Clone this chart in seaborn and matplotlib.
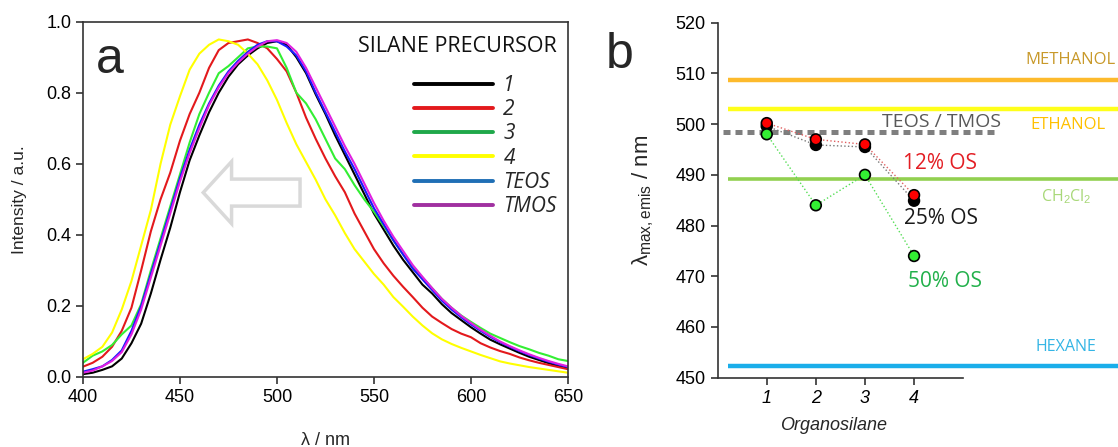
import pandas as pd
import matplotlib
matplotlib.use('Agg')
import matplotlib.pyplot as plt
from matplotlib.lines import Line2D
from matplotlib.patches import FancyArrow
from matplotlib.font_manager import FontProperties
import seaborn as sns

# ---------------- data ----------------
wavelength = list(range(400, 655, 5))

int_1 = [0.008, 0.012, 0.02, 0.03, 0.052, 0.095, 0.15, 0.235, 0.33, 0.42,
         0.52, 0.61, 0.68, 0.745, 0.8, 0.845, 0.88, 0.905, 0.925, 0.94,
         0.945, 0.935, 0.9, 0.855, 0.795, 0.74, 0.68, 0.625, 0.57, 0.515,
         0.46, 0.415, 0.37, 0.33, 0.295, 0.26, 0.235, 0.205, 0.18, 0.16,
         0.14, 0.122, 0.105, 0.092, 0.08, 0.068, 0.057, 0.048, 0.039, 0.031,
         0.024]
int_2 = [0.029, 0.04, 0.057, 0.085, 0.13, 0.195, 0.3, 0.41, 0.5, 0.575,
         0.665, 0.74, 0.8, 0.87, 0.92, 0.94, 0.945, 0.95, 0.94, 0.925,
         0.895, 0.86, 0.8, 0.73, 0.67, 0.615, 0.565, 0.52, 0.46, 0.41,
         0.36, 0.32, 0.285, 0.254, 0.225, 0.195, 0.17, 0.152, 0.135, 0.122,
         0.112, 0.095, 0.083, 0.073, 0.065, 0.055, 0.047, 0.04, 0.034, 0.028,
         0.022]
int_3 = [0.04, 0.06, 0.072, 0.09, 0.12, 0.145, 0.205, 0.3, 0.39, 0.48,
         0.57, 0.66, 0.74, 0.8, 0.855, 0.875, 0.9, 0.925, 0.93, 0.93,
         0.925, 0.87, 0.8, 0.77, 0.725, 0.67, 0.615, 0.585, 0.54, 0.5,
         0.465, 0.425, 0.385, 0.345, 0.31, 0.28, 0.25, 0.22, 0.195, 0.173,
         0.155, 0.138, 0.122, 0.11, 0.098, 0.087, 0.078, 0.068, 0.06, 0.05,
         0.045]
int_4 = [0.05, 0.065, 0.085, 0.125, 0.19, 0.27, 0.37, 0.47, 0.6, 0.71,
         0.79, 0.865, 0.91, 0.935, 0.95, 0.945, 0.935, 0.91, 0.88, 0.835,
         0.78, 0.715, 0.655, 0.605, 0.555, 0.5, 0.455, 0.405, 0.36, 0.325,
         0.29, 0.26, 0.225, 0.198, 0.17, 0.145, 0.123, 0.106, 0.093, 0.082,
         0.072, 0.062, 0.053, 0.044, 0.038, 0.033, 0.028, 0.024, 0.02, 0.016,
         0.012]
int_teos = [0.015, 0.022, 0.03, 0.048, 0.075, 0.13, 0.2, 0.29, 0.38, 0.47,
            0.56, 0.64, 0.71, 0.77, 0.82, 0.86, 0.89, 0.915, 0.935, 0.945,
            0.945, 0.93, 0.905, 0.86, 0.8, 0.745, 0.69, 0.635, 0.585, 0.53,
            0.475, 0.43, 0.385, 0.345, 0.305, 0.275, 0.245, 0.215, 0.19, 0.168,
            0.148, 0.13, 0.113, 0.098, 0.085, 0.073, 0.062, 0.052, 0.043, 0.035,
            0.028]
int_tmos = [0.012, 0.018, 0.03, 0.045, 0.07, 0.12, 0.19, 0.28, 0.37, 0.46,
            0.55, 0.63, 0.7, 0.765, 0.815, 0.855, 0.885, 0.91, 0.93, 0.945,
            0.948, 0.94, 0.915, 0.87, 0.815, 0.76, 0.705, 0.65, 0.6, 0.545,
            0.49, 0.44, 0.395, 0.355, 0.315, 0.282, 0.25, 0.22, 0.195, 0.172,
            0.152, 0.133, 0.116, 0.1, 0.087, 0.075, 0.064, 0.054, 0.045, 0.037,
            0.03]

precursors = ['1', '2', '3', '4', 'TEOS', 'TMOS']
curve_colors = ['#000000', '#E3191C', '#33EE33', '#FFFF00', '#1A1AFF', '#E020E0']
legend_colors = ['#000000', '#E3191C', '#1FA84A', '#FFFF00', '#1F6FB5', '#A030A0']

organosilane = [1, 2, 3, 4]
os_25 = [499.6, 495.9, 495.5, 484.9]
os_12 = [500.2, 497.0, 496.0, 486.0]
os_50 = [498.0, 484.0, 490.0, 474.0]

solvents = ['METHANOL', 'ETHANOL', 'CH$_2$Cl$_2$', 'HEXANE']
solvent_lmax = [508.8, 503.0, 489.1, 452.3]
teos_tmos_lmax = 498.4

# ---------------- style ----------------
sns.set_theme(style='ticks')
plt.rcParams['font.family'] = ['Liberation Sans', 'DejaVu Sans']
plt.rcParams['mathtext.fontset'] = 'custom'
plt.rcParams['mathtext.rm'] = 'Liberation Sans'
plt.rcParams['mathtext.it'] = 'Liberation Sans:italic'
plt.rcParams['axes.edgecolor'] = '#333333'
plt.rcParams['axes.linewidth'] = 1.2
plt.rcParams['xtick.color'] = '#333333'
plt.rcParams['ytick.color'] = '#333333'
plt.rcParams['xtick.labelcolor'] = 'black'
plt.rcParams['ytick.labelcolor'] = 'black'

fig = plt.figure(figsize=(11.18, 4.47), dpi=100)
ax_a = fig.add_axes([0.0742, 0.1566, 0.4338, 0.7949])
ax_b = fig.add_axes([0.6419, 0.155, 0.2196, 0.7942])

# ---------------- panel a ----------------
spectra = pd.DataFrame({
    'wavelength': wavelength * len(precursors),
    'intensity': int_1 + int_2 + int_3 + int_4 + int_teos + int_tmos,
    'precursor': [p for p in precursors for _ in wavelength],
})
sns.lineplot(data=spectra, x='wavelength', y='intensity', hue='precursor',
             hue_order=precursors, palette=curve_colors, lw=1.5,
             estimator=None, legend=False, ax=ax_a)

ax_a.add_patch(FancyArrow(511.9, 0.519, -49.9, 0, width=0.076, head_width=0.1745,
                          head_length=14.6, length_includes_head=True,
                          fc='white', ec='#D9D9D9', lw=2.5, zorder=0))

ax_a.set_xlim(400, 650)
ax_a.set_ylim(0, 1.0)
ax_a.set_xticks([400, 450, 500, 550, 600, 650])
ax_a.set_yticks([0, 0.2, 0.4, 0.6, 0.8, 1.0])
ax_a.yaxis.set_major_formatter(matplotlib.ticker.FormatStrFormatter('%.1f'))
ax_a.tick_params(direction='out', length=5, width=1.2, labelsize=13)
ax_a.set_xlabel('λ / nm', fontsize=13)
ax_a.set_ylabel('Intensity / a.u.', fontsize=12.5)
ax_a.xaxis.set_label_coords(0.5, -0.155)
ax_a.xaxis.label.set_va('top')
ax_a.yaxis.set_label_coords(-0.115, 0.5)

# legend: title as separate text, entries right-aligned beneath
ax_a.text(0.977, 0.929, 'SILANE PRECURSOR', transform=ax_a.transAxes, ha='right', va='center',
          fontsize=15.5, family='Open Sans', color='#111111')
handles = [Line2D([], [], color=c, lw=2.8) for c in legend_colors]
ax_a.legend(handles, precursors, loc='upper right',
            bbox_to_anchor=(0.977, 0.85), frameon=False,
            prop=FontProperties(family='Open Sans', style='italic', size=15),
            handlelength=3.8, handletextpad=0.5, labelspacing=0.155,
            borderpad=0, borderaxespad=0, alignment='right')

# ---------------- panel b ----------------
points = pd.DataFrame({
    'organosilane': organosilane * 3,
    'lmax': os_25 + os_12 + os_50,
    'loading': ['25% OS'] * 4 + ['12% OS'] * 4 + ['50% OS'] * 4,
})
loading_order = ['25% OS', '12% OS', '50% OS']

ax_b.hlines(solvent_lmax, 0.21, 8.15, colors=['#FDBA2C', '#FFFF1A', '#92D050', '#1AAEEA'],
            lw=[3.2, 3.2, 2.6, 3.2], clip_on=False, zorder=1)
ax_b.hlines(teos_tmos_lmax, 0.11, 5.65, colors='#7F7F7F', lw=3.6,
            linestyles=[(0, (1.4, 1.0))], clip_on=False, zorder=2)

sns.lineplot(data=points, x='organosilane', y='lmax', hue='loading', hue_order=loading_order,
             palette=['#777777', '#E06060', '#55DD55'], lw=1.0, linestyle=':',
             legend=False, ax=ax_b, zorder=3)
sns.scatterplot(data=points, x='organosilane', y='lmax', hue='loading', hue_order=loading_order,
                palette=['#000000', '#FF0000', '#33EE33'], s=60, edgecolor='black',
                linewidth=1.2, legend=False, ax=ax_b, zorder=5)

label_font = {'family': 'Open Sans'}
ax_b.text(7.19, 512.6, 'METHANOL', color='#C8992A', fontsize=12, ha='center', va='center', **label_font)
ax_b.text(7.13, 499.8, 'ETHANOL', color='#FFC000', fontsize=12, ha='center', va='center', **label_font)
ax_b.text(7.11, 485.7, 'CH$_2$Cl$_2$', color='#A8D878', fontsize=11.5, ha='center', va='center', **label_font)
ax_b.text(7.09, 456.1, 'HEXANE', color='#33B5E5', fontsize=11.5, ha='center', va='center', **label_font)
ax_b.text(4.55, 500.5, 'TEOS / TMOS', color='#595959', fontsize=14, ha='center', va='center', **label_font)
ax_b.text(4.53, 492.3, '12% OS', color='#E31E24', fontsize=15, ha='center', va='center', **label_font)
ax_b.text(4.55, 481.4, '25% OS', color='#1A1A1A', fontsize=15, ha='center', va='center', **label_font)
ax_b.text(4.63, 468.9, '50% OS', color='#22B04B', fontsize=15, ha='center', va='center', **label_font)

ax_b.set_xlim(0, 5)
ax_b.set_ylim(450, 520)
ax_b.set_xticks(organosilane)
ax_b.set_yticks(range(450, 521, 10))
sns.despine(ax=ax_b)
ax_b.tick_params(direction='out', length=5, width=1.2, labelsize=13)
for lbl in ax_b.get_xticklabels():
    lbl.set_fontstyle('italic')
ax_b.set_xlabel('Organosilane', fontsize=13, fontstyle='italic')
ax_b.xaxis.set_label_coords(0.47, -0.111)
ax_b.xaxis.label.set_va('top')
ax_b.set_ylabel(r'$\mathregular{λ_{max,emis}}$ / nm', fontsize=16)
ax_b.yaxis.set_label_coords(-0.252, 0.5)

fig.text(110 / 1118, 1 - 60 / 447, 'a', fontsize=36, ha='center', va='center')
fig.text(620 / 1118, 1 - 55 / 447, 'b', fontsize=36, ha='center', va='center')

fig.savefig('out.png', dpi=100)
